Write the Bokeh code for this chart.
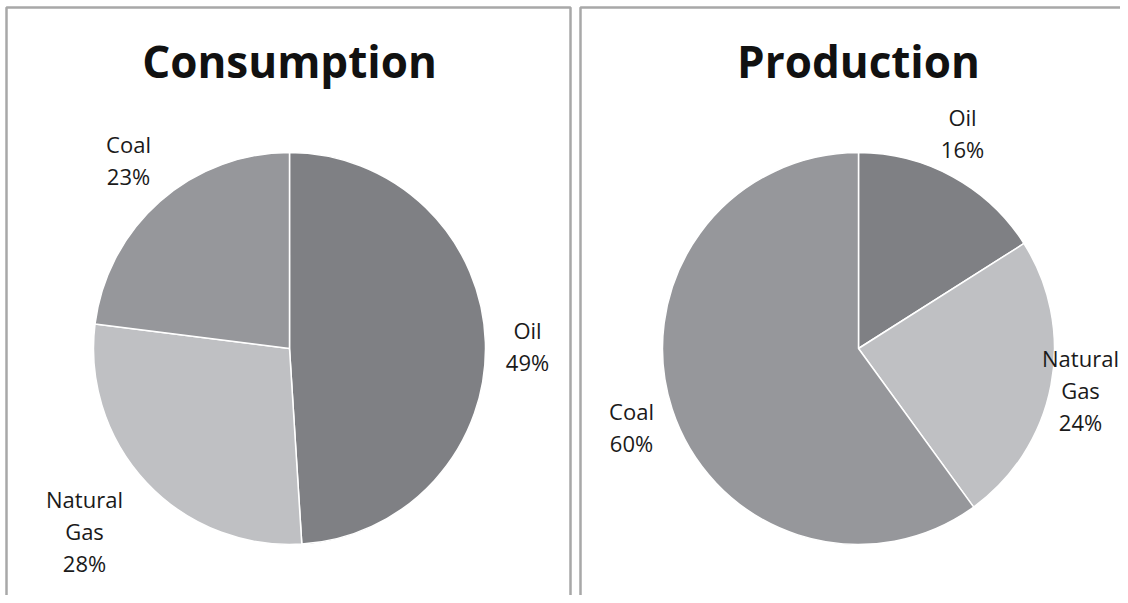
import math
from bokeh.plotting import figure
from bokeh.models import Range1d, ColumnDataSource
from bokeh.core.properties import value
from bokeh.embed import file_html
from bokeh.resources import INLINE

# ---- data ----
titles = ["Consumption", "Production"]
categories = ["Oil", "Natural Gas", "Coal"]
consumption = [49, 28, 23]
production = [16, 24, 60]
colors = ["#7f8084", "#bfc0c3", "#96979b"]

# ---- layout (screen pixel coordinates) ----
W, H = 1120, 595
PAGE_H = 603
centers_x = [289, 858]
center_y = 348
radius = 196
title_y = 60
panels = [(6, 570), (580, 1140)]
# label anchor (x, first-line y) for each category, per panel
label_pos = [
    [(527, 329), (84, 498), (128, 143)],
    [(962, 116), (1080, 357), (631, 410)],
]
line_gap = 32
FONT = "Open Sans"

def Y(sy):
    return PAGE_H - sy

p = figure(width=W, height=H, output_backend="svg", toolbar_location=None,
           x_range=Range1d(0, W), y_range=Range1d(PAGE_H - H, PAGE_H),
           min_border=0, outline_line_color=None)
p.axis.visible = False
p.grid.visible = False
p.background_fill_color = "white"

# panel borders
p.quad(left=[a for a, b in panels], right=[b for a, b in panels],
       top=[Y(7)] * 2, bottom=[Y(640)] * 2,
       fill_color=None, line_color="#a8a8a8", line_width=2.5)

for k, vals in enumerate([consumption, production]):
    total = float(sum(vals))
    cum = 0.0
    starts, ends = [], []
    for v in vals:
        starts.append(math.pi / 2 - 2 * math.pi * cum / total)
        cum += v
        ends.append(math.pi / 2 - 2 * math.pi * cum / total)
    src = ColumnDataSource(dict(x=[centers_x[k]] * 3, y=[Y(center_y)] * 3,
                                start=starts, end=ends, color=colors))
    p.wedge(x="x", y="y", radius=radius, start_angle="start", end_angle="end",
            direction="clock", fill_color="color", line_color="white",
            line_width=1.5, source=src)

    # title
    p.text(x=[centers_x[k]], y=[Y(title_y)], text=[titles[k]],
           text_font=value(FONT), text_font_style="bold", text_font_size="44px",
           text_align="center", text_baseline="middle", text_color="#111111")

    # labels
    lx, ly, lt = [], [], []
    for i, cat in enumerate(categories):
        lines = cat.split(" ") + ["%d%%" % vals[i]]
        x0, y0 = label_pos[k][i]
        for j, t in enumerate(lines):
            lx.append(x0)
            ly.append(Y(y0 + j * line_gap))
            lt.append(t)
    p.text(x=lx, y=ly, text=lt, text_font=value(FONT), text_font_size="22px",
           text_align="center", text_baseline="middle", text_color="#1a1a1a")

open("out.html", "w").write(file_html(p, INLINE))
